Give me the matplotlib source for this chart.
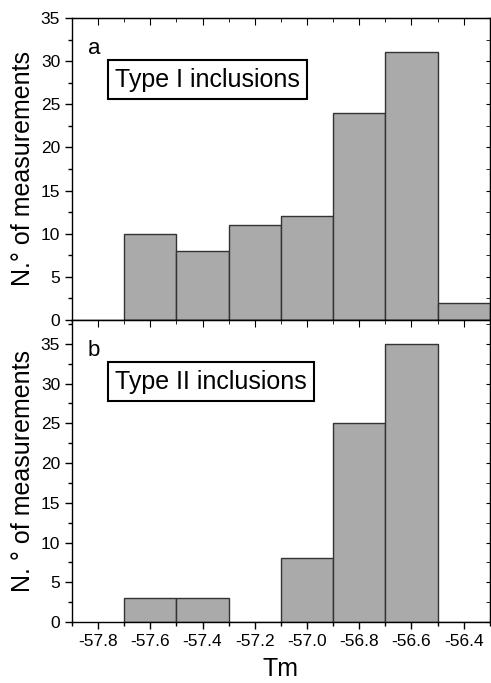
import matplotlib
matplotlib.use('Agg')
import matplotlib.pyplot as plt
from matplotlib.ticker import MultipleLocator

plt.rcParams['font.family'] = ['Liberation Sans', 'DejaVu Sans']
plt.rcParams['axes.unicode_minus'] = False

# bin left edges (Tm) and counts
bin_left = [-57.7, -57.5, -57.3, -57.1, -56.9, -56.7, -56.5]
bin_width = 0.2
count_type1 = [10, 8, 11, 12, 24, 31, 2]
count_type2 = [3, 3, 0, 8, 25, 35, 0]

panels = [
    ('a', 'Type I inclusions', count_type1, 35, 'N.° of measurements'),
    ('b', 'Type II inclusions', count_type2, 38, 'N. ° of measurements'),
]

fig = plt.figure(figsize=(4.91, 6.83), dpi=100)
ax_top = fig.add_axes([0.1466, 0.5315, 0.851, 0.4422])
ax_bot = fig.add_axes([0.1466, 0.0893, 0.851, 0.4422], sharex=ax_top)

for ax, (letter, title, counts, ymax, ylab) in zip([ax_top, ax_bot], panels):
    ax.bar(bin_left, counts, width=bin_width, align='edge',
           color='#aaaaaa', edgecolor='#333333', linewidth=1.0)
    ax.set_xlim(-57.9, -56.3)
    ax.set_ylim(0, ymax)
    ax.xaxis.set_major_locator(MultipleLocator(0.2))
    ax.xaxis.set_minor_locator(MultipleLocator(0.1))
    ax.yaxis.set_major_locator(MultipleLocator(5))
    ax.yaxis.set_minor_locator(MultipleLocator(2.5))
    ax.tick_params(which='both', direction='out', labelsize=12.5, width=1)
    ax.tick_params(which='major', length=5)
    ax.tick_params(which='minor', length=3)
    for sp in ax.spines.values():
        sp.set_linewidth(1.0)

    # mirrored ticks pointing inward on top and right
    sx = ax.secondary_xaxis('top')
    sx.xaxis.set_major_locator(MultipleLocator(0.2))
    sx.xaxis.set_minor_locator(MultipleLocator(0.1))
    sx.tick_params(which='both', direction='in', labeltop=False)
    sx.tick_params(which='major', length=5)
    sx.tick_params(which='minor', length=3)
    sy = ax.secondary_yaxis('right')
    sy.yaxis.set_major_locator(MultipleLocator(5))
    sy.yaxis.set_minor_locator(MultipleLocator(2.5))
    sy.tick_params(which='both', direction='in', labelright=False, length=3)

    ax.set_ylabel(ylab, fontsize=18, labelpad=4)
    ax.text(0.038, 0.9, letter, transform=ax.transAxes, fontsize=16,
            ha='left', va='center')
    ax.text(0.103, 0.795, title, transform=ax.transAxes, fontsize=18,
            ha='left', va='center',
            bbox=dict(boxstyle='square,pad=0.3', facecolor='white',
                      edgecolor='black', linewidth=1.5))

plt.setp(ax_top.get_xticklabels(), visible=False)
ax_bot.set_xlabel('Tm', fontsize=18, labelpad=6)

fig.savefig('out.png', dpi=100)
